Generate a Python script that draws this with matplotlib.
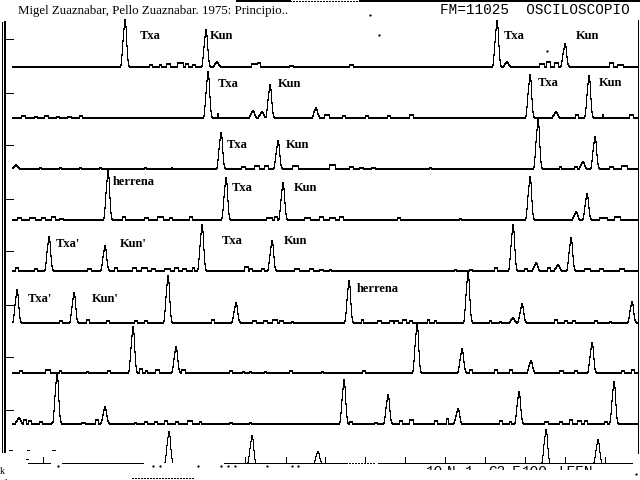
import numpy as np
import matplotlib
matplotlib.use("Agg")
import matplotlib.pyplot as plt
from matplotlib.patches import Rectangle

plt.rcParams['font.serif'] = ['Liberation Serif', 'DejaVu Serif']
plt.rcParams['font.monospace'] = ['Liberation Mono', 'DejaVu Sans Mono']

# baselines of the eight full traces (pixel rows, from top)
baselines = [67, 118, 169, 220, 271, 323, 373, 424]

# main peaks per trace: (x, height)
peaks = [
    [(125, 47), (206, 37), (497, 46), (565, 23), (217, 5), (507, 5)],
    [(208, 46), (270, 33), (530, 43), (589, 42), (316, 10), (253, 7), (262, 6), (556, 6)],
    [(221, 36), (278, 28), (538, 49), (595, 32), (583, 7), (16, 4)],
    [(108, 49), (226, 42), (283, 37), (530, 43), (587, 26), (576, 8)],
    [(49, 34), (105, 25), (202, 46), (272, 30), (513, 46), (571, 33), (536, 8), (558, 6)],
    [(17, 33), (74, 30), (168, 47), (236, 20), (349, 42), (468, 51), (522, 19), (632, 21), (513, 5)],
    [(133, 46), (176, 26), (417, 49), (462, 24), (531, 12), (592, 30)],
    [(57, 51), (105, 17), (344, 44), (388, 29), (458, 15), (519, 32), (614, 42), (19, 6)],
]

# small bumps per trace: (x, width, height)
bumps = [
    [(150, 3, 2), (160, 2, 2), (167, 4, 3), (178, 6, 4), (186, 3, 3), (193, 3, 2), (252, 6, 3),
     (258, 3, 4), (290, 4, 1), (350, 4, 2), (540, 5, 3), (547, 4, 5), (555, 4, 4), (610, 4, 4), (618, 6, 2)],
    [(22, 4, 2), (35, 3, 1), (45, 4, 2), (57, 3, 1), (68, 4, 1), (80, 3, 2), (218, 1, 4), (325, 5, 3),
     (343, 3, 2), (366, 3, 2), (388, 3, 2), (410, 4, 3), (576, 3, 3), (603, 1, 3), (630, 4, 3)],
    [(40, 2, 1), (60, 2, 1), (80, 2, 1), (100, 2, 1), (145, 2, 1), (172, 1, 1), (242, 4, 2), (255, 5, 3),
     (265, 4, 3), (293, 6, 3), (330, 6, 4), (350, 4, 2), (360, 4, 1), (372, 4, 1), (430, 2, 1),
     (560, 2, 2), (575, 3, 2), (610, 4, 2), (622, 6, 3)],
    [(18, 4, 2), (30, 6, 2), (42, 4, 2), (52, 4, 3), (60, 4, 1), (123, 3, 3), (145, 4, 2), (158, 6, 3),
     (170, 3, 2), (190, 3, 3), (267, 6, 2), (275, 3, 3), (305, 6, 2), (320, 4, 3), (330, 6, 2),
     (340, 4, 3), (398, 3, 2), (460, 2, 1), (600, 8, 2), (615, 6, 3)],
    [(16, 3, 3), (35, 3, 2), (88, 4, 2), (115, 3, 3), (133, 4, 3), (142, 6, 3), (152, 4, 2), (165, 6, 2),
     (175, 4, 3), (183, 4, 2), (193, 2, 3), (245, 4, 4), (250, 3, 2), (262, 3, 2), (295, 5, 2),
     (310, 4, 2), (320, 4, 1), (330, 2, 1), (455, 2, 1), (470, 3, 1), (495, 3, 3), (525, 3, 2),
     (548, 3, 3), (585, 6, 2), (600, 4, 2), (620, 5, 2)],
    [(60, 3, 2), (87, 3, 3), (107, 3, 2), (135, 3, 2), (145, 3, 2), (212, 3, 3), (253, 4, 2), (264, 4, 2),
     (273, 5, 3), (280, 4, 2), (292, 2, 1), (362, 2, 3), (378, 4, 2), (390, 4, 2), (395, 4, 2),
     (403, 4, 3), (410, 3, 2), (428, 2, 3), (435, 2, 2), (490, 2, 2), (500, 2, 1), (555, 3, 3),
     (565, 3, 2), (573, 3, 2), (595, 3, 2), (610, 2, 1)],
    [(20, 3, 2), (46, 5, 3), (60, 2, 2), (87, 2, 1), (108, 3, 2), (140, 3, 4), (146, 2, 2), (156, 4, 3),
     (182, 4, 3), (230, 3, 2), (243, 2, 1), (250, 2, 1), (265, 2, 1), (290, 3, 2), (322, 2, 1),
     (363, 3, 2), (470, 3, 3), (495, 3, 3), (510, 3, 3), (560, 4, 2), (575, 3, 2), (622, 3, 2), (632, 3, 3)],
    [(24, 3, 4), (29, 3, 3), (40, 3, 2), (52, 2, 1), (82, 4, 1), (96, 3, 4), (135, 2, 1), (145, 3, 2),
     (155, 3, 2), (165, 3, 3), (176, 3, 2), (188, 5, 3), (200, 2, 2), (230, 3, 1), (250, 2, 1),
     (350, 3, 2), (375, 3, 1), (400, 3, 3), (410, 4, 4), (435, 3, 3), (447, 2, 5), (500, 3, 3),
     (510, 2, 2), (545, 4, 2), (560, 3, 2), (570, 3, 4), (578, 4, 3), (585, 3, 3), (605, 3, 2)],
]

# labels: (text, x, baseline y)
label_text = ["Txa", "Kun", "Txa", "Kun",
              "Txa", "Kun", "Txa", "Kun",
              "Txa", "Kun",
              "herrena", "Txa", "Kun",
              "Txa'", "Kun'", "Txa", "Kun",
              "Txa'", "Kun'", "herrena"]
label_x = [140, 210, 504, 576,
           218, 278, 538, 599,
           227, 286,
           113, 232, 294,
           56, 120, 222, 284,
           28, 92, 357]
label_y = [39, 39, 39, 39,
           87, 87, 86, 86,
           148, 148,
           185, 191, 191,
           247, 247, 244, 244,
           302, 302, 292]

# broken last trace
row9_base = 463
row9_segments = [(28, 50), (62, 143), (224, 347), (378, 632)]
row9_dotted = [(349, 376)]
row9_spikes = [(168, 32), (251, 28), (317, 12), (545, 34), (597, 24)]
row9_ticks = [43, 245, 286, 325, 365, 405, 445, 485, 525, 565, 605]
row9_dots = [58, 153, 160, 198, 221, 228, 235, 267, 292, 298]
bottom_words = ["1O", "N", "1", "C2", "F", "1OO", "LEEN"]
bottom_x = [426, 447, 465, 488, 512, 522, 558]

axis_ticks = [39, 93, 145, 199, 251, 305, 357, 410]

# peak outline (relative offsets and fractions of height)
offs = [-4, -3, -2, -1, 0, 1, 2, 3, 4]
fracs = [0.04, 0.25, 0.55, 0.8, 1.0, 0.85, 0.45, 0.15, 0.03]

fig = plt.figure(figsize=(6.4, 4.8), dpi=100)
ax = fig.add_axes([0, 0, 1, 1])
ax.set_xlim(0, 640)
ax.set_ylim(480, 0)
ax.axis('off')

kw = dict(color='black', lw=0.7, antialiased=False, clip_on=False)

xs = np.arange(13, 638)
for base, pk, bp in zip(baselines, peaks, bumps):
    h = np.zeros(len(xs))
    for x0, w, hh in bp:
        m = (xs >= x0) & (xs < x0 + w)
        h[m] = np.maximum(h[m], hh)
    for xp, hp in pk:
        for dx, f in zip(offs, fracs):
            i = xp + dx - 13
            if 0 <= i < len(h):
                h[i] = max(h[i], round(hp * f))
    ax.step(xs, base - h, where='mid', **kw)

# last broken trace
for a, b in row9_segments:
    ax.plot([a, b], [row9_base, row9_base], **kw)
for a, b in row9_dotted:
    ax.plot([a, b], [row9_base, row9_base], ls=(0, (2, 2)), **kw)
for xp, hp in row9_spikes:
    px = [xp + d for d in offs]
    py = [row9_base - round(hp * f) for f in fracs]
    ax.step(px, py, where='mid', **kw)
for xt in row9_ticks:
    ax.plot([xt, xt], [row9_base, row9_base - 6], **kw)
ax.plot(row9_dots, [row9_base + 3] * len(row9_dots), 's', ms=0.6, color='black', antialiased=False)
for x0, y0, w in [(9, 450, 3), (27, 450, 2), (52, 450, 3), (26, 459, 2)]:
    ax.plot([x0, x0 + w], [y0, y0], **kw)
ax.plot([132, 193], [478, 478], ls=(0, (2, 2)), **kw)

clip = Rectangle((400, 462), 240, 8, transform=ax.transData, visible=False)
ax.add_patch(clip)
for wd, bx in zip(bottom_words, bottom_x):
    t = ax.text(bx, 465, wd, family='monospace', fontsize=10.4, va='top', ha='left')
    t.set_clip_on(True)
    t.set_clip_path(clip)

# left axis and right border
ax.plot([1.5, 1.5], [22, 452], **kw)
ax.plot([5, 5], [22, 452], color='black', lw=1.4, antialiased=False)
for yt in axis_ticks:
    ax.plot([5, 13], [yt, yt], **kw)
ax.plot([638, 638], [20, 453], **kw)

# top line
ax.plot([237, 290], [1, 1], color='black', lw=1.4, antialiased=False, clip_on=False)
ax.plot([290, 360], [1, 1], ls=(0, (1.5, 1.5)), **kw)
ax.plot([360, 640], [1, 1], color='black', lw=1.4, antialiased=False, clip_on=False)
ax.plot([370, 379, 547, 636], [15, 35, 51, 474], 's', ms=0.6, color='black', antialiased=False)

for s, x, y in zip(label_text, label_x, label_y):
    ax.text(x, y, s, family='serif', fontsize=9, fontweight='bold',
            ha='left', va='baseline')

ax.text(18, 14, "Migel Zuaznabar, Pello Zuaznabar. 1975: Principio..",
        family='serif', fontsize=9.3, ha='left', va='baseline')
ax.text(440, 14, "FM=11025  OSCILOSCOPIO", family='monospace', fontsize=10.4,
        ha='left', va='baseline')
ax.text(0, 474, "k", family='serif', fontsize=7, ha='left', va='baseline')
ax.text(5, 479, ",", family='serif', fontsize=7, ha='left', va='baseline')

fig.savefig("out.png", dpi=100, facecolor='white')
